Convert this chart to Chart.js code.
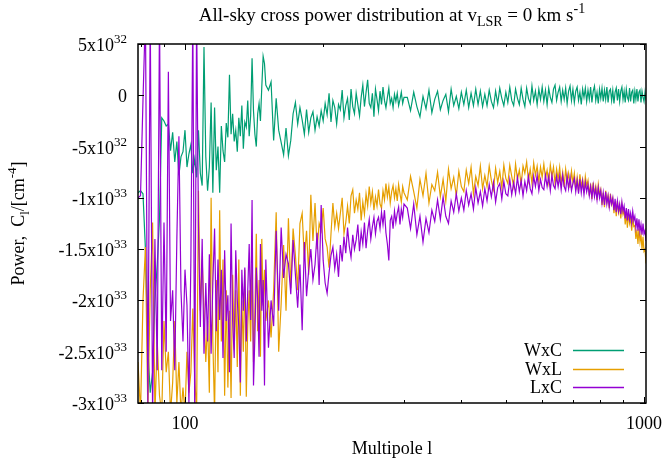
<!DOCTYPE html>
<html>
<head>
<meta charset="utf-8">
<script src="https://cdn.jsdelivr.net/npm/chart.js@4.4.1/dist/chart.umd.min.js"></script>
<style>
  body { margin: 0; background: #fff; }
  #wrap { width: 663px; height: 463px; }
</style>
</head>
<body>
<div id="wrap"><canvas id="powerChart" width="663" height="463"></canvas></div>
<script>
// multipole l (x axis)
const multipoles = [
  79, 80, 81, 82, 83, 84, 85, 86, 87, 88,
  89, 90, 91, 92, 93, 94, 95, 96, 97, 98,
  99, 100, 101, 102, 103, 104, 105, 106, 107, 108,
  109, 110, 111, 112, 113, 114, 115, 116, 117, 118,
  119, 120, 121, 122, 123, 124, 125, 126, 127, 128,
  129, 130, 131, 132, 133, 134, 135, 136, 137, 138,
  139, 140, 141, 142, 143, 144, 145, 146, 147, 148,
  149, 150,
  152, 154, 156, 158, 160, 162, 164, 166, 168, 170,
  172, 174, 176, 178, 180, 182, 184, 186, 188, 190,
  192, 194, 196, 198, 200, 202, 204, 206, 208, 210,
  212, 214, 216, 218, 220, 222, 224, 226, 228, 230,
  232, 234, 236, 238, 240, 242, 244, 246, 248, 250,
  252, 254, 256, 258, 260, 262, 264, 266, 268, 270,
  272, 274, 276, 278, 280, 282, 284, 286, 288, 290,
  292, 294, 296, 298, 300,
  305, 310, 315, 320, 325, 330, 335, 340, 345, 350,
  355, 360, 365, 370, 375, 380, 385, 390, 395, 400,
  405, 410, 415, 420, 425, 430, 435, 440, 445, 450,
  455, 460, 465, 470, 475, 480, 485, 490, 495, 500,
  505, 510, 515, 520, 525, 530, 535, 540, 545, 550,
  555, 560, 565, 570, 575, 580, 585, 590, 595, 600,
  605, 610, 615, 620, 625, 630, 635, 640, 645, 650,
  655, 660, 665, 670, 675, 680, 685, 690, 695, 700,
  705, 710, 715, 720, 725, 730, 735, 740, 745, 750,
  755, 760, 765, 770, 775, 780, 785, 790, 795, 800,
  805, 810, 815, 820, 825, 830, 835, 840, 845, 850,
  855, 860, 865, 870, 875, 880, 885, 890, 895, 900,
  905, 910, 915, 920, 925, 930, 935, 940, 945, 950,
  955, 960, 965, 970, 975, 980, 985, 990, 995, 1000,
  1005, 1010
];

// power, in units of 1e32 cm^-4
const wxc = [
  -9.5, -9.3, -9.6, -15, -24.6, -29, -27, -20, -16.5, -12,
  -2.2, -2.5, -3.0, -2.8, -5.4, -3.6, -6.5, -4.5, -7.8, -6.0,
  -5.5, -3.4, -7.0, -5.7, -4.8, -7.6, -6.2, -8.0, -3.4, -7.6,
  -8.8, 4.7, -6.0, -9.3, -7.0, -0.7, -9.5, -1.2, -7.3, -5.0,
  -9.5, -3.0, -5.4, -6.5, -2.7, -4.1, 2.0, -3.8, -1.8, -4.5,
  -3.4, -5.5, -2.2, -4.0, -1.0, -5.2, -2.6, -3.1, -0.5, -4.0,
  -2.0, 3.6, -1.5, -3.8, -5.0, -1.8, -0.8, -2.5, 0.8, 3.8,
  3.1, 1.0,
  0.5, 1.3, -4.4, -0.3, -3.4, -4.6, -5.8, -3.2, -5.9, -4.4,
  -1.8, -0.7, -2.8, -1.2, -2.4, -3.8, -1.4, -3.6, -2.2, -1.6,
  -3.4, -2.1, -3.0, -1.5, -2.5, -0.8, -1.9, 0.2, -2.6, -0.5,
  -1.2, -2.8, -0.9, -1.4, 0.5, -2.2, -1.0, -0.3, -2.4, 0.6,
  -1.1, -1.8, 0.2, -0.9, -2.0, -0.2, 1.0, -1.1, 0.3, 1.5,
  -0.8, -1.2, 0.2, -2.1, 0.6, -0.4, -1.5, 0.4, -0.9, 0.8,
  -0.5, -1.2, -0.2, 0.7, -0.8, -0.3, -1.2, 0.1, -0.6, 0.2,
  -1.0, -0.4, 0.3, -0.8, -0.2,
  -0.2, -1.5, 0.3, -1.1, -2.1, -0.1, -1.3, 0.5, -1.7, -0.4,
  0.4, -1.4, -0.5, 0.1, -1.6, 0.6, -1.0, -0.1, -1.3, 0.3,
  -0.9, 0.5, -1.2, 0.2, -1.0, 0.6, -0.9, 0.4, -1.1, 0.1,
  -1.0, 0.5, -0.6, -1.2, 0.4, -0.8, 0.7, -0.3, -1.0, 0.3,
  -0.7, 0.8, -0.5, -1.0, 0.6, -0.3, -0.9, 0.7, -0.4, -1.1,
  0.7, -0.3, -0.8, 0.9, -0.5, 0.4, -0.9, 0.6, -0.4, 0.8,
  -0.6, 0.5, -0.9, 0.7, -0.2, -0.7, 0.6, 1.0, -0.5, 0.3,
  0.8, -0.6, 0.5, -0.4, 0.7, -0.8, 0.4, 0.9, -0.5, 0.6,
  -0.7, 0.4, 0.8, -0.5, 0.3, -0.9, 0.6, -0.2, 0.7, -0.6,
  0.5, -0.4, 0.8, -0.7, 0.4, 0.9, -0.5, 0.3, -0.8, 0.6,
  -0.3, 0.7, -0.6, 0.5, -0.4, 0.8, -0.7, 0.4, 0.6, -0.5,
  0.5, -0.8, 0.3, 0.7, -0.5, 0.6, -0.6, 0.4, 0.8, -0.4,
  0.4, -0.7, 0.6, -0.2, -0.5, 0.7, -0.6, 0.3, 0.5, -0.8,
  0.4, -0.4, 0.6, -0.6, 0.3, 0.5, -0.7, 0.4, -0.2, -0.6,
  0.3, -0.5
];

const wxl = [
  -26, -31, -20, -14.8, -31, -19, -12.4, -31, -24, -29.3,
  -31, -22, -27, -25, -31, -28, -22, -30, -26, -31,
  -28.5, -31, -25, -29, -27, -20.8, -27.5, -31, -9.3, -21,
  -16, -21, -26, -22, -29, -10, -24, -31, -18, -27,
  -11.2, -24, -16, -29.3, -19, -28.5, -21, -29.5, -17.5, -24.8,
  -19, -26.5, -16, -29.3, -20, -25, -17, -29.4, -22.5, -19,
  -24, -16.5, -26, -21, -13.5, -23, -18, -25.5, -14, -20.5,
  -17, -22,
  -20, -23.6, -19, -11.4, -25, -20.3, -14.6, -21, -12.0, -18.8,
  -13, -15.6, -19, -12.5, -11.5, -16, -13.2, -17.5, -9.7, -14.2,
  -10.5, -15, -12.5, -13.2, -11, -14, -14.8, -16.8, -13.5, -10.5,
  -12.8, -11.5, -13, -11.5, -10, -13.5, -12.4, -10.8, -12.5, -9.8,
  -9.2, -11.5, -10.2, -11.1, -9.5, -12.2, -10.4, -11.6, -9.6, -10.8,
  -8.9, -10.5, -9.4, -11.2, -9.9, -10.8, -9.2, -10.6, -11.0, -9.3,
  -10.2, -8.6, -9.9, -8.9, -10.5, -9.4, -8.8, -10.0, -9.1, -10.3,
  -8.7, -9.6, -10.4, -8.9, -9.5,
  -10.2, -7.9, -9.4, -11.0, -8.2, -9.8, -7.6, -10.5, -8.7, -9.3,
  -7.5, -9.9, -8.2, -10.3, -7.2, -9.1, -8.0, -9.8, -7.4, -8.9,
  -9.4, -7.3, -8.6, -7.0, -9.6, -7.9, -8.8, -6.9, -9.1, -7.8,
  -8.9, -6.9, -8.3, -9.2, -7.1, -8.5, -7.4, -9.0, -6.8, -8.1,
  -8.6, -6.8, -7.9, -8.9, -6.7, -8.2, -7.3, -8.7, -6.9, -7.6,
  -6.5, -8.3, -7.2, -8.6, -6.6, -7.8, -6.9, -8.4, -7.0, -8.0,
  -6.7, -8.1, -7.3, -8.5, -6.8, -7.9, -7.0, -8.6, -7.2, -8.2,
  -7.0, -8.6, -7.5, -8.9, -7.2, -8.4, -7.6, -9.0, -7.4, -8.5,
  -7.6, -9.2, -8.0, -9.4, -7.7, -8.9, -8.2, -9.5, -7.9, -8.8,
  -8.3, -9.8, -8.6, -10.1, -8.5, -9.6, -8.9, -10.2, -8.7, -9.7,
  -9.2, -10.7, -9.5, -10.9, -9.3, -10.4, -9.8, -11.0, -9.6, -10.6,
  -10.1, -11.5, -10.4, -11.8, -10.3, -11.4, -10.8, -12.0, -10.7, -11.6,
  -11.2, -12.6, -11.5, -12.9, -11.4, -12.5, -12.0, -13.2, -11.9, -12.8,
  -12.7, -14.0, -13.1, -14.5, -13.0, -14.3, -13.6, -15.0, -13.8, -15.2,
  -15.0, -16.4
];

const lxc = [
  -10.0, -9.8, -0.5, 8, -30, 8, -31, -14, -26.8, 8,
  -26.8, -12.4, -25, 2.3, -22, -19, -26.8, -14, -4, -19,
  -24, -17, -20.5, -30, -16, 8, -31, 8, -12.8, -22.6,
  -14, -25.2, -18.3, -24, -15.5, -25.2, -18.3, -13, -23, -16,
  -21.9, -17, -25.6, -15.1, -22, -19.5, -27, -12.5, -21.9, -25.6,
  -15.1, -20, -22.6, -28, -17, -21, -16.8, -24, -19, -14.5,
  -21.9, -10.2, -28.3, -23.5, -16.8, -20, -25.5, -14.5, -21, -18,
  -28.3, -16,
  -24.6, -20, -22.5, -13.2, -21, -12.9, -17.8, -15.5, -16.4, -19.4,
  -14.1, -17.5, -20.7, -16.5, -22.9, -14.3, -19.6, -17, -15.0, -18,
  -16.5, -13.4, -18.5, -10.7, -16.1, -18.3, -19.3, -17.3, -15.6, -14.8,
  -16.9, -15.5, -17.7, -14.6, -16.2, -13.8, -15.4, -12.9, -14.7, -15.8,
  -13.6, -15.0, -14.1, -12.6, -15.2, -13.3, -14.5, -12.4, -14.9, -13.2,
  -12.1, -14.0, -12.8, -11.9, -13.5, -12.3, -11.9, -13.0, -11.4, -12.6,
  -11.2, -13.4, -14.5, -16.1, -12.2, -11.8, -13.0, -11.3, -12.4, -11.5,
  -10.9, -12.6, -11.1, -11.9, -10.6,
  -11.0, -13.0, -10.6, -13.6, -11.8, -14.3, -12.0, -13.4, -11.2, -12.3,
  -10.2, -12.1, -9.9, -11.8, -12.5, -10.3, -11.4, -9.6, -11.3, -10.0,
  -11.2, -9.3, -10.7, -9.6, -11.1, -9.0, -10.5, -9.4, -10.8, -9.1,
  -10.3, -8.7, -9.9, -8.5, -10.4, -9.0, -8.6, -10.1, -8.4, -9.6,
  -9.8, -8.2, -9.7, -8.5, -9.6, -8.0, -9.4, -8.3, -9.8, -8.4,
  -9.3, -7.9, -9.1, -9.6, -7.9, -8.9, -7.8, -9.3, -8.2, -9.0,
  -9.2, -7.8, -8.9, -7.9, -9.3, -7.8, -8.8, -9.1, -7.9, -8.9,
  -7.9, -9.2, -7.8, -8.9, -9.3, -7.9, -9.1, -8.0, -9.3, -8.6,
  -8.1, -9.4, -8.3, -9.6, -8.2, -9.5, -8.4, -9.7, -8.5, -9.4,
  -8.7, -9.8, -8.9, -10.0, -8.8, -9.9, -9.1, -10.2, -9.0, -10.0,
  -9.3, -10.5, -9.5, -10.7, -9.4, -10.6, -9.8, -10.9, -9.9, -10.6,
  -10.0, -11.2, -10.1, -11.4, -10.3, -11.3, -10.6, -11.6, -10.4, -11.3,
  -10.8, -12.0, -11.0, -12.2, -11.1, -12.1, -11.5, -12.4, -11.3, -12.2,
  -11.8, -12.9, -12.0, -13.2, -12.1, -13.3, -12.6, -13.6, -12.5, -13.5,
  -13.2, -14.2
];

const seriesNames = ["WxC", "WxL", "LxC"];
const seriesColors = ["#009e73", "#e69f00", "#9400d3"];

// y ticks (units of 1e32) and their labels: mantissa + power of ten
const yTickValues = [5, 0, -5, -10, -15, -20, -25, -30];
const yTickLabels = ["5x10", "0", "-5x10", "-1x10", "-1.5x10", "-2x10", "-2.5x10", "-3x10"];
const yTickPowers = ["32", "", "32", "33", "33", "33", "33", "33"];

const xMajorTicks = [100, 1000];
const xMajorLabels = ["100", "1000"];
const xMinorTicks = [80, 90, 200, 300, 400, 500, 600, 700, 800, 900];

const FONT = "'Liberation Serif', 'Times New Roman', serif";

// draws pieces of text [str, size, dy] one after another
function drawRich(ctx, parts, x, y, align) {
  let w = 0;
  parts.forEach((p) => {
    ctx.font = p[1] + "px " + FONT;
    w += ctx.measureText(p[0]).width;
  });
  let cx = align === "right" ? x - w : align === "center" ? x - w / 2 : x;
  ctx.textAlign = "left";
  ctx.textBaseline = "alphabetic";
  parts.forEach((p) => {
    ctx.font = p[1] + "px " + FONT;
    ctx.fillText(p[0], cx, y + p[2]);
    cx += ctx.measureText(p[0]).width;
  });
}

const gnuplotFrame = {
  id: "gnuplotFrame",
  beforeDraw(chart) {
    const ctx = chart.ctx;
    ctx.save();
    ctx.fillStyle = "#fff";
    ctx.fillRect(0, 0, chart.width, chart.height);
    ctx.restore();
  },
  afterDraw(chart) {
    const { ctx, chartArea: a } = chart;
    const xs = chart.scales.x;
    const ys = chart.scales.y;
    ctx.save();
    ctx.strokeStyle = "#000";
    ctx.fillStyle = "#000";

    // ticks, pointing inwards on all four sides
    ctx.lineWidth = 1;
    ctx.beginPath();
    yTickValues.forEach((v) => {
      const py = Math.round(ys.getPixelForValue(v)) + 0.5;
      ctx.moveTo(a.left, py);
      ctx.lineTo(a.left + 6, py);
      ctx.moveTo(a.right, py);
      ctx.lineTo(a.right - 6, py);
    });
    xMajorTicks.forEach((v) => {
      const px = Math.round(xs.getPixelForValue(v)) + 0.5;
      ctx.moveTo(px, a.bottom);
      ctx.lineTo(px, a.bottom - 6);
      ctx.moveTo(px, a.top);
      ctx.lineTo(px, a.top + 6);
    });
    xMinorTicks.forEach((v) => {
      const px = Math.round(xs.getPixelForValue(v)) + 0.5;
      ctx.moveTo(px, a.bottom);
      ctx.lineTo(px, a.bottom - 3);
      ctx.moveTo(px, a.top);
      ctx.lineTo(px, a.top + 3);
    });
    ctx.stroke();

    ctx.lineWidth = 1.5;
    ctx.strokeRect(a.left, a.top, a.right - a.left, a.bottom - a.top);

    // y tick labels
    yTickValues.forEach((v, i) => {
      const py = ys.getPixelForValue(v);
      const parts = [[yTickLabels[i], 18, 0]];
      if (yTickPowers[i]) parts.push([yTickPowers[i], 13, -8]);
      drawRich(ctx, parts, 127, py + 7, "right");
    });

    // x tick labels
    xMajorTicks.forEach((v, i) => {
      drawRich(ctx, [[xMajorLabels[i], 18, 0]], xs.getPixelForValue(v), 429, "center");
    });

    // titles
    const midX = (a.left + a.right) / 2;
    drawRich(ctx, [
      ["All-sky cross power distribution at v", 19, 0],
      ["LSR", 14, 5],
      [" = 0 km s", 19, 0],
      ["-1", 14, -8]
    ], midX, 21, "center");
    drawRich(ctx, [["Multipole l", 18, 0]], midX, 454, "center");

    ctx.save();
    ctx.translate(24, (a.top + a.bottom) / 2);
    ctx.rotate(-Math.PI / 2);
    drawRich(ctx, [
      ["Power,  C", 18, 0],
      ["l", 13, 5],
      ["/[cm", 18, 0],
      ["-4", 13, -8],
      ["]", 18, 0]
    ], 0, 0, "center");
    ctx.restore();

    // key, bottom right inside the plot
    const keyY = [350, 369, 387];
    seriesNames.forEach((name, i) => {
      drawRich(ctx, [[name, 18, 0]], 562, keyY[i] + 6, "right");
      ctx.strokeStyle = seriesColors[i];
      ctx.lineWidth = 1.3;
      ctx.beginPath();
      ctx.moveTo(573, keyY[i] + 0.5);
      ctx.lineTo(624, keyY[i] + 0.5);
      ctx.stroke();
    });
    ctx.restore();
  }
};

function toPoints(values) {
  return multipoles.map((l, i) => ({ x: l, y: values[i] }));
}

const ctx = document.getElementById("powerChart").getContext("2d");
new Chart(ctx, {
  type: "line",
  data: {
    datasets: [
      { label: seriesNames[0], data: toPoints(wxc), borderColor: seriesColors[0], order: 3 },
      { label: seriesNames[1], data: toPoints(wxl), borderColor: seriesColors[1], order: 2 },
      { label: seriesNames[2], data: toPoints(lxc), borderColor: seriesColors[2], order: 1 }
    ]
  },
  options: {
    responsive: false,
    animation: false,
    devicePixelRatio: 1,
    layout: { padding: { left: 138, right: 17, top: 44, bottom: 60 } },
    elements: {
      point: { radius: 0 },
      line: { borderWidth: 1.2, tension: 0 }
    },
    plugins: {
      legend: { display: false },
      tooltip: { enabled: false }
    },
    scales: {
      x: { type: "logarithmic", min: 79, max: 1010, display: false },
      y: { type: "linear", min: -30, max: 5, display: false }
    }
  },
  plugins: [gnuplotFrame]
});
</script>
</body>
</html>
